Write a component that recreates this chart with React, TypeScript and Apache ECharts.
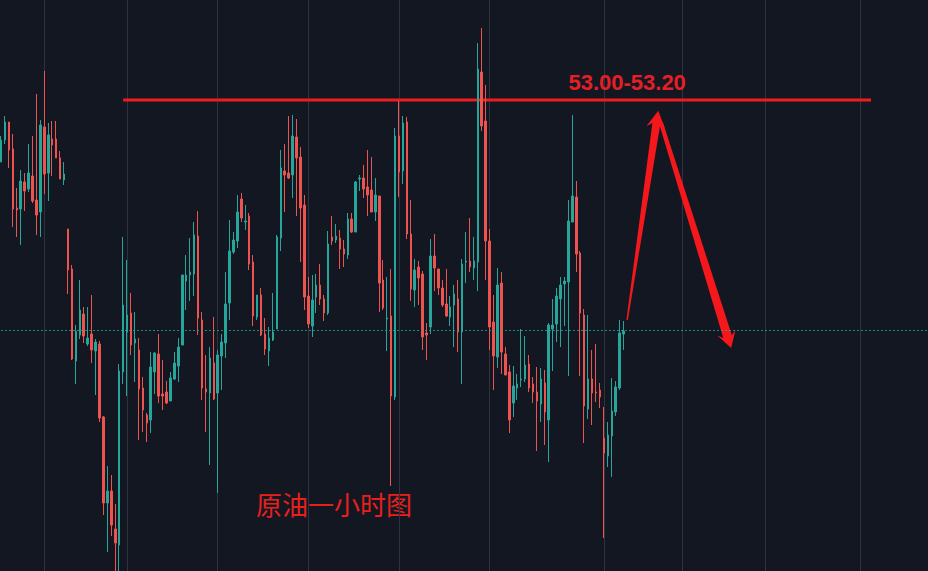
import React, { useEffect, useRef } from "react";
import * as echarts from "echarts";

// [open, close, low, high]
const ohlc: number[][] = [
  [52.79, 52.9, 52.79, 52.92],
  [52.9, 52.99, 52.88, 53.02],
  [52.99, 52.85, 52.76, 52.99],
  [52.855, 52.555, 52.465, 52.93],
  [52.56, 52.55, 52.415, 52.66],
  [52.555, 52.695, 52.375, 52.75],
  [52.69, 52.645, 52.545, 52.735],
  [52.655, 52.735, 52.64, 52.88],
  [52.72, 52.595, 52.585, 52.92],
  [52.6, 52.525, 52.425, 53.13],
  [52.54, 52.975, 52.415, 53.0],
  [52.965, 52.73, 52.63, 53.245],
  [52.735, 52.925, 52.595, 52.985],
  [52.905, 52.875, 52.72, 52.995],
  [52.905, 52.81, 52.81, 52.995],
  [52.81, 52.705, 52.705, 52.845],
  [52.7, 52.73, 52.675, 52.79],
  [52.455, 52.25, 52.13, 52.455],
  [52.255, 51.805, 51.8, 52.275],
  [51.795, 51.943, 51.68, 51.975],
  [51.925, 52.05, 51.905, 52.2],
  [52.03, 51.92, 51.885, 52.065],
  [51.88, 51.91, 51.87, 52.065],
  [51.93, 51.85, 51.785, 52.125],
  [51.845, 51.89, 51.625, 51.905],
  [51.88, 51.51, 51.49, 51.895],
  [51.515, 51.085, 51.025, 51.52],
  [51.085, 51.145, 50.84, 51.27],
  [51.145, 50.975, 50.92, 51.225],
  [50.955, 50.885, 50.745, 51.08],
  [50.875, 51.745, 50.745, 51.78],
  [51.74, 52.075, 51.68, 52.415],
  [51.94, 52.025, 51.62, 52.3],
  [52.035, 51.875, 51.825, 52.135],
  [51.885, 51.905, 51.69, 52.04],
  [51.85, 51.655, 51.4, 51.91],
  [51.66, 51.55, 51.44, 51.715],
  [51.525, 51.485, 51.39, 51.535],
  [51.5, 51.765, 51.435, 51.84],
  [51.74, 51.835, 51.63, 51.84],
  [51.83, 51.62, 51.585, 51.93],
  [51.63, 51.62, 51.55, 51.8],
  [51.64, 51.585, 51.58, 51.695],
  [51.595, 51.71, 51.595, 51.74],
  [51.705, 51.785, 51.7, 51.84],
  [51.77, 51.865, 51.69, 51.91],
  [51.875, 52.225, 51.875, 52.225],
  [52.195, 52.225, 52.05, 52.325],
  [52.225, 52.24, 52.095, 52.41],
  [52.23, 52.425, 52.12, 52.49],
  [52.42, 52.01, 51.925, 52.545],
  [52.0, 51.66, 51.6, 52.04],
  [51.655, 51.64, 51.44, 51.825],
  [51.635, 51.81, 51.275, 51.865],
  [51.785, 51.605, 51.6, 52.015],
  [51.635, 51.825, 51.135, 51.85],
  [51.82, 51.89, 51.65, 51.93],
  [51.885, 52.08, 51.81, 52.24],
  [52.085, 52.345, 52.0, 52.5],
  [52.34, 52.4, 52.33, 52.44],
  [52.395, 52.54, 52.36, 52.625],
  [52.605, 52.51, 52.49, 52.635],
  [52.49, 52.495, 52.45, 52.575],
  [52.52, 52.28, 52.25, 52.535],
  [52.29, 52.02, 51.97, 52.325],
  [52.015, 52.125, 52.0, 52.125],
  [52.125, 51.925, 51.92, 52.16],
  [51.93, 51.855, 51.825, 52.01],
  [51.845, 51.91, 51.77, 51.965],
  [51.9, 51.94, 51.895, 52.135],
  [51.955, 52.415, 51.955, 52.425],
  [52.41, 52.76, 52.345, 52.85],
  [52.745, 52.725, 52.54, 52.88],
  [52.735, 52.71, 52.705, 53.02],
  [52.725, 52.92, 52.61, 53.025],
  [52.915, 52.81, 52.52, 53.005],
  [52.815, 52.56, 52.29, 52.865],
  [52.575, 52.115, 52.05, 52.625],
  [52.12, 51.98, 51.96, 52.215],
  [51.97, 52.1, 51.915, 52.225],
  [52.115, 52.175, 52.035, 52.23],
  [52.175, 52.105, 52.075, 52.28],
  [52.105, 52.035, 51.995, 52.125],
  [52.035, 52.38, 52.025, 52.445],
  [52.415, 52.395, 52.375, 52.52],
  [52.4, 52.42, 52.385, 52.48],
  [52.41, 52.355, 52.255, 52.45],
  [52.355, 52.33, 52.265, 52.4],
  [52.325, 52.505, 52.305, 52.535],
  [52.505, 52.44, 52.435, 52.535],
  [52.44, 52.69, 52.44, 52.695],
  [52.705, 52.71, 52.645, 52.725],
  [52.71, 52.655, 52.61, 52.775],
  [52.665, 52.625, 52.52, 52.85],
  [52.65, 52.54, 52.54, 52.815],
  [52.54, 52.625, 52.495, 52.71],
  [52.62, 52.185, 52.04, 52.62],
  [52.2, 52.06, 52.05, 52.3],
  [52.005, 52.01, 51.845, 52.215],
  [52.02, 51.62, 51.17, 52.255],
  [51.615, 52.92, 51.6, 52.96],
  [52.92, 52.74, 52.615, 53.095],
  [52.745, 52.985, 52.68, 53.02],
  [52.99, 52.43, 52.405, 53.015],
  [52.43, 52.155, 52.095, 52.6],
  [52.15, 52.25, 52.065, 52.305],
  [52.265, 52.21, 52.075, 52.295],
  [52.23, 51.915, 51.85, 52.245],
  [51.935, 51.925, 51.8, 51.985],
  [51.965, 52.32, 51.93, 52.405],
  [52.32, 52.26, 52.145, 52.43],
  [52.255, 52.16, 52.125, 52.255],
  [52.16, 52.075, 52.065, 52.2],
  [52.08, 52.02, 52.015, 52.255],
  [52.015, 52.065, 51.97, 52.12],
  [52.075, 52.13, 51.865, 52.175],
  [52.105, 51.94, 51.84, 52.2],
  [51.94, 52.28, 51.68, 52.305],
  [52.29, 52.295, 52.185, 52.44],
  [52.295, 52.265, 52.24, 52.51],
  [52.26, 52.295, 52.2, 52.415],
  [52.29, 53.255, 52.145, 53.385],
  [53.24, 52.97, 52.945, 53.46],
  [52.995, 52.395, 52.2, 53.175],
  [52.395, 51.965, 51.85, 52.455],
  [51.99, 51.82, 51.65, 52.125],
  [51.815, 52.175, 51.76, 52.26],
  [52.185, 51.84, 51.73, 52.24],
  [51.83, 51.725, 51.725, 51.865],
  [51.74, 51.5, 51.435, 51.775],
  [51.585, 51.67, 51.515, 51.77],
  [51.66, 51.68, 51.6, 51.73],
  [51.7, 51.705, 51.665, 51.955],
  [51.705, 51.775, 51.69, 51.92],
  [51.78, 51.66, 51.64, 51.825],
  [51.68, 51.64, 51.585, 51.715],
  [51.64, 51.595, 51.345, 51.765],
  [51.58, 51.705, 51.49, 51.76],
  [51.685, 51.54, 51.375, 51.75],
  [51.5, 51.975, 51.29, 51.985],
  [51.955, 51.975, 51.745, 52.105],
  [51.98, 52.12, 51.89, 52.16],
  [52.105, 52.175, 51.865, 52.215],
  [52.18, 52.195, 51.97, 52.215],
  [52.19, 52.495, 51.72, 52.6],
  [52.49, 52.62, 52.49, 53.025],
  [52.615, 52.33, 52.24, 52.695],
  [52.335, 52.035, 51.72, 52.345],
  [52.025, 51.57, 51.385, 52.055],
  [51.555, 51.705, 51.505, 52.025],
  [51.705, 51.635, 51.475, 51.85],
  [51.64, 51.635, 51.59, 51.88],
  [51.65, 51.615, 51.56, 51.685],
  [51.41, 51.335, 50.91, 51.565],
  [51.32, 51.425, 51.265, 51.49],
  [51.42, 51.545, 51.215, 51.71],
  [51.54, 51.665, 51.52, 51.695],
  [51.66, 51.935, 51.65, 52.0],
  [51.93, 51.945, 51.85, 51.995],
];

const slotCount = 236;
const categories = Array.from({ length: slotCount }, (_, i) => `${i}`);
const dayLineIndices = [11, 32, 55, 78, 101, 124, 153, 173, 194, 218];

const priceMin = 50.745;
const priceMax = 53.6;

const zoneLabel = "53.00-53.20";
const zonePrice = 53.1;
const zoneStart = 31;
const zoneEnd = 220.8;
const zoneLabelPos = [158.9, 53.19];

const chartTitle = "原油一小时图";

// [fromX, fromPrice, toX, toPrice, tailWidth, shaftWidth, headWidth, headLength]
const arrowSpecs: number[][] = [
  [158.9, 52.0, 166.8, 53.046, 1.5, 8, 19, 17],
  [167.5, 52.985, 185.3, 51.86, 4, 9, 19, 16],
];

const UP = "#26a69a";
const DOWN = "#ef5350";
const MARK_RED = "#f01c1f";

export default function App() {
  const ref = useRef<HTMLDivElement>(null);

  useEffect(() => {
    document.body.style.margin = "0";
    document.body.style.background = "#131722";
    const chart = echarts.init(ref.current!, null, { renderer: "svg" });
    const lastClose = ohlc[ohlc.length - 1][1];

    chart.setOption({
      animation: false,
      backgroundColor: "#131722",
      grid: { left: 1, right: 1, top: 0, bottom: 0, containLabel: false },
      xAxis: [
        {
          type: "category",
          data: categories,
          boundaryGap: false,
          axisLine: { show: false },
          axisTick: { show: false },
          axisLabel: { show: false },
          splitLine: {
            show: true,
            interval: (index: number) => dayLineIndices.includes(index),
            lineStyle: { color: "#2f333f", width: 1 },
          },
        },
        {
          type: "value",
          min: 0,
          max: slotCount - 1,
          show: false,
        },
      ],
      yAxis: {
        type: "value",
        min: priceMin,
        max: priceMax,
        show: false,
        splitLine: { show: false },
      },
      series: [
        {
          type: "candlestick",
          xAxisIndex: 0,
          data: ohlc,
          barWidth: 2,
          itemStyle: {
            color: UP,
            color0: DOWN,
            borderColor: UP,
            borderColor0: DOWN,
            borderWidth: 1,
          },
          markLine: {
            silent: true,
            symbol: "none",
            label: { show: false },
            lineStyle: { color: UP, type: [2, 2], width: 1, opacity: 0.8 },
            data: [{ yAxis: lastClose }],
          },
        },
        {
          type: "custom",
          xAxisIndex: 1,
          yAxisIndex: 0,
          silent: true,
          clip: false,
          data: [[zoneStart, zonePrice, zoneEnd, zoneLabelPos[0], zoneLabelPos[1]]],
          encode: { x: [0, 2], y: 1 },
          renderItem: (params: any, api: any) => {
            const a = api.coord([api.value(0), api.value(1)]);
            const b = api.coord([api.value(2), api.value(1)]);
            const t = api.coord([api.value(3), api.value(4)]);
            return {
              type: "group",
              children: [
                {
                  type: "line",
                  shape: { x1: a[0], y1: a[1], x2: b[0], y2: b[1] },
                  style: { stroke: MARK_RED, lineWidth: 3 },
                },
                {
                  type: "text",
                  x: t[0],
                  y: t[1],
                  style: {
                    text: zoneLabel,
                    fill: "#e61e25",
                    font: "bold 22px 'Liberation Sans', Arial, sans-serif",
                    textAlign: "center",
                    textVerticalAlign: "middle",
                  },
                },
              ],
            };
          },
        },
        {
          type: "custom",
          xAxisIndex: 1,
          yAxisIndex: 0,
          silent: true,
          clip: false,
          data: arrowSpecs,
          encode: { x: [0, 2], y: [1, 3] },
          renderItem: (params: any, api: any) => {
            const T = api.coord([api.value(0), api.value(1)]);
            const P = api.coord([api.value(2), api.value(3)]);
            const dx = P[0] - T[0];
            const dy = P[1] - T[1];
            const len = Math.hypot(dx, dy);
            const ux = dx / len;
            const uy = dy / len;
            const nx = -uy;
            const ny = ux;
            const tw = api.value(4) / 2;
            const sw = api.value(5) / 2;
            const hw = api.value(6) / 2;
            const hl = api.value(7);
            const B = [P[0] - ux * hl, P[1] - uy * hl];
            const J = [P[0] - ux * (hl - 4), P[1] - uy * (hl - 4)];
            const pts = [
              [T[0] + nx * tw, T[1] + ny * tw],
              [J[0] + nx * sw, J[1] + ny * sw],
              [B[0] + nx * hw, B[1] + ny * hw],
              [P[0], P[1]],
              [B[0] - nx * hw, B[1] - ny * hw],
              [J[0] - nx * sw, J[1] - ny * sw],
              [T[0] - nx * tw, T[1] - ny * tw],
            ];
            return {
              type: "polygon",
              shape: { points: pts },
              style: { fill: "#f4181c" },
            };
          },
        },
      ],
      graphic: [
        {
          type: "text",
          left: 256,
          top: 490,
          style: {
            text: chartTitle,
            fill: "#e8201c",
            font: "26px 'Noto Sans CJK SC', sans-serif",
          },
        },
      ],
    });

    return () => chart.dispose();
  }, []);

  return (
    <div
      ref={ref}
      style={{ position: "fixed", left: 0, top: 0, width: 928, height: 571 }}
    />
  );
}
